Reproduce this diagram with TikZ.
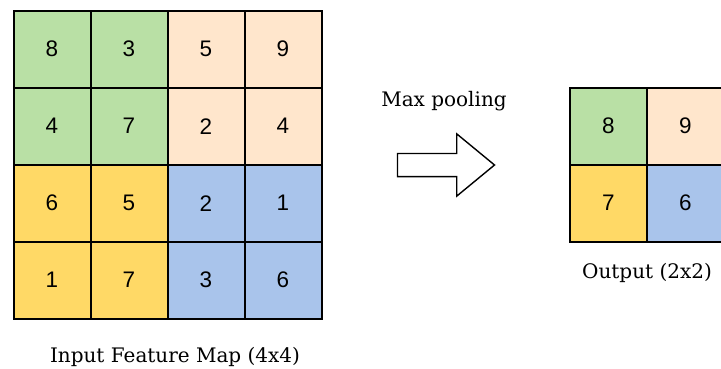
\documentclass[tikz,border=0pt]{standalone}
\usepackage{fontspec}
\setmainfont{DejaVu Serif}
\newfontfamily\cellfont{Liberation Sans}
\usepackage{tikz}
\usetikzlibrary{positioning}
\usetikzlibrary{shapes.arrows}

\definecolor{cgreen}{HTML}{B9E0A5}
\definecolor{cpeach}{HTML}{FFE6CC}
\definecolor{cyellow}{HTML}{FFD966}
\definecolor{cblue}{HTML}{A9C4EB}

\tikzset{
	cell/.style={draw,line width=2pt,minimum size=77pt,inner sep=0pt,
		font=\cellfont\fontsize{22.5}{26}\selectfont},
	caption/.style={font=\fontsize{20}{23}\selectfont,inner sep=0pt},
}

\begin{document}
\begin{tikzpicture}[x=1pt,y=-1pt,node distance=77pt,on grid]
		\useasboundingbox (0,0) rectangle (721,369);
		% input feature map
		\node[cell,fill=cgreen] (i11) at (52,49.2) {8};
		\node[cell,fill=cgreen] (i12) [right=of i11] {3};
		\node[cell,fill=cpeach] (i13) [right=of i12] {5};
		\node[cell,fill=cpeach] (i14) [right=of i13] {9};
		\node[cell,fill=cgreen] (i21) [below=of i11] {4};
		\node[cell,fill=cgreen] (i22) [right=of i21] {7};
		\node[cell,fill=cpeach] (i23) [right=of i22] {2};
		\node[cell,fill=cpeach] (i24) [right=of i23] {4};
		\node[cell,fill=cyellow] (i31) [below=of i21] {6};
		\node[cell,fill=cyellow] (i32) [right=of i31] {5};
		\node[cell,fill=cblue] (i33) [right=of i32] {2};
		\node[cell,fill=cblue] (i34) [right=of i33] {1};
		\node[cell,fill=cyellow] (i41) [below=of i31] {1};
		\node[cell,fill=cyellow] (i42) [right=of i41] {7};
		\node[cell,fill=cblue] (i43) [right=of i42] {3};
		\node[cell,fill=cblue] (i44) [right=of i43] {6};
		\node[caption] (inlabel) [below right=76.5pt and 46pt of i42] {Input Feature Map (4x4)};
		
		% pooling arrow
		\node[single arrow,draw,line width=1.4pt,minimum height=97pt,inner sep=10.85pt,
			single arrow head extend=19.6pt,single arrow tip angle=79] (pool)
			[below right=38.8pt and 156pt of i24] {};
		\node[caption] (poollabel) [above right=64pt and 5pt of pool] {Max pooling};
		
		% output
		\node[cell,fill=cgreen] (o11) [right=325.5pt of i24] {8};
		\node[cell,fill=cpeach] (o12) [right=of o11] {9};
		\node[cell,fill=cyellow] (o21) [below=of o11] {7};
		\node[cell,fill=cblue] (o22) [right=of o21] {6};
		\node[caption] (outlabel) [below right=69.8pt and 38.5pt of o21] {Output (2x2)};
	\end{tikzpicture}
\end{document}
